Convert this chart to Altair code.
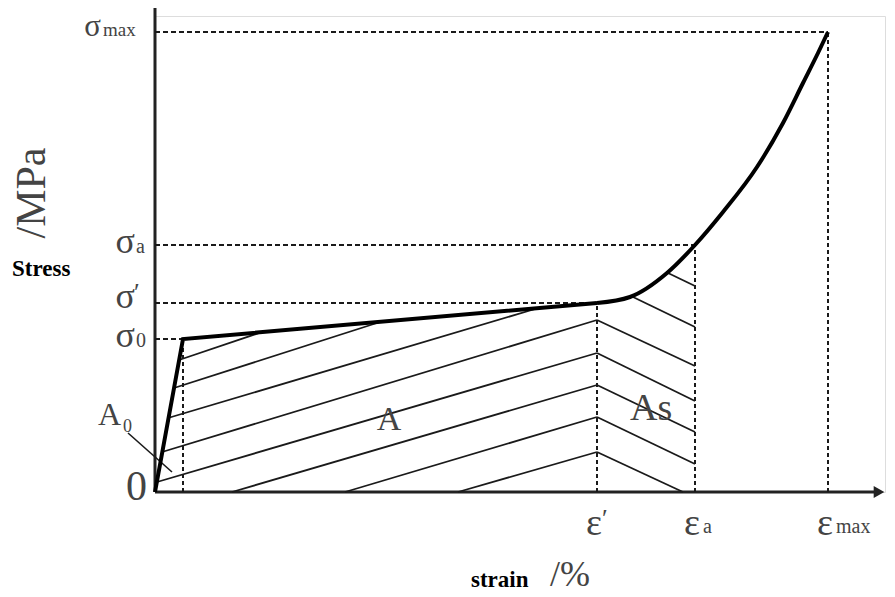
import altair as alt
import pandas as pd

# ---------------- data (schematic units) ----------------
# elastic + plateau segment (sharp knee)
lin_strain = [0, 28, 442]
lin_stress = [0, 153, 189]
# hardening curve from sigma' to sigma_max
curve_strain = [442, 475, 512, 540, 568, 602, 628, 648, 663, 673]
curve_stress = [189, 195, 219, 247, 280, 325, 369, 409, 439, 460]

# characteristic levels
level_names = ["0", "′", "a", "max"]
level_strain = [28, 442, 540, 673]
level_stress = [153, 189, 247, 460]

# hatch segments (area A and area As)
hatch_x1 = [303, 190, 77, 2, 7, 13, 19, 24, 442, 442, 442, 442, 442, 478, 513]
hatch_y1 = [0, 0, 0, 10, 40, 74, 104, 132, 40, 75, 107, 139, 172, 195, 219]
hatch_x2 = [442, 442, 442, 442, 442, 380, 225, 107, 528, 540, 540, 540, 540, 540, 540]
hatch_y2 = [40, 75, 107, 139, 172, 183, 170, 160, 0, 28, 60, 91, 126, 165, 206]

# A0 leader line
leader_x = [-27, 17]
leader_y = [59, 20]

# ---------------- tables ----------------
lin_df = pd.DataFrame({"strain": lin_strain, "stress": lin_stress})
curve_df = pd.DataFrame({"strain": curve_strain, "stress": curve_stress})
lev_df = pd.DataFrame({"name": level_names, "strain": level_strain, "stress": level_stress, "zero": 0})
hatch_df = pd.DataFrame({"x1": hatch_x1, "y1": hatch_y1, "x2": hatch_x2, "y2": hatch_y2})
leader_df = pd.DataFrame({"strain": leader_x, "stress": leader_y})
one = pd.DataFrame({"k": [0]})

W, H = 730, 476
xs = alt.Scale(domain=[0, W], nice=False, zero=False)
ys = alt.Scale(domain=[0, H], nice=False, zero=False)
X = lambda f: alt.X(f, scale=xs, axis=None)
Y = lambda f: alt.Y(f, scale=ys, axis=None)

SERIF = "Liberation Serif"
GRAY = "#444444"
INK = "#1a1a1a"

# axes drawn by hand
y_axis = alt.Chart(one).mark_rule(color="#222", strokeWidth=3).encode(
    x=alt.value(0), y=alt.value(-8), y2=alt.value(H))
x_axis = alt.Chart(one).mark_rule(color="#222", strokeWidth=3).encode(
    x=alt.value(0), x2=alt.value(W - 8), y=alt.value(H))
arrow = alt.Chart(one).mark_point(shape="triangle-right", filled=True, size=150,
                                  color="#222", opacity=1).encode(
    x=alt.value(W - 6), y=alt.value(H))

# dashed guide lines
h_dash = alt.Chart(lev_df).mark_rule(strokeDash=[5, 3], strokeWidth=2, color=INK).encode(
    x=X("zero:Q"), x2="strain:Q", y=Y("stress:Q"))
v_dash = alt.Chart(lev_df).mark_rule(strokeDash=[4, 3], strokeWidth=2, color=INK).encode(
    x=X("strain:Q"), y=Y("zero:Q"), y2="stress:Q")

# hatching
hatch = alt.Chart(hatch_df).mark_rule(strokeWidth=1.8, color=INK).encode(
    x=X("x1:Q"), y=Y("y1:Q"), x2="x2:Q", y2="y2:Q")
leader = alt.Chart(leader_df).mark_line(strokeWidth=1.6, color=INK, clip=False).encode(
    x=X("strain:Q"), y=Y("stress:Q"))

# main curve
lin_line = alt.Chart(lin_df).mark_line(strokeWidth=4, color="black", strokeJoin="miter").encode(
    x=X("strain:Q"), y=Y("stress:Q"))
curve_line = alt.Chart(curve_df).mark_line(strokeWidth=4, color="black", interpolate="monotone").encode(
    x=X("strain:Q"), y=Y("stress:Q"))

# ---------------- labels ----------------
def txt(size, color=GRAY, **kw):
    return dict(font=SERIF, fontSize=size, color=color, **kw)

lev = alt.Chart(lev_df)
sig_low = lev.transform_filter("datum.name == '0' || datum.name == 'a'")
sig_main_low = sig_low.mark_text(align="right", baseline="alphabetic", dy=8, **txt(36)).encode(
    x=alt.value(-20), y=Y("stress:Q"), text=alt.value("σ"))
sig_sub_low = sig_low.mark_text(align="left", baseline="alphabetic", dy=8, **txt(20)).encode(
    x=alt.value(-19), y=Y("stress:Q"), text="name:N")
sig_p = lev.transform_filter("datum.name == '′'")
sig_main_p = sig_p.mark_text(align="right", baseline="alphabetic", dy=5, **txt(36)).encode(
    x=alt.value(-20), y=Y("stress:Q"), text=alt.value("σ"))
sig_sub_p = sig_p.mark_text(align="left", baseline="alphabetic", dy=-2, **txt(26)).encode(
    x=alt.value(-21), y=Y("stress:Q"), text="name:N")
sig_m = lev.transform_filter("datum.name == 'max'")
sig_main_m = sig_m.mark_text(align="right", baseline="alphabetic", dy=4, **txt(31)).encode(
    x=alt.value(-54), y=Y("stress:Q"), text=alt.value("σ"))
sig_sub_m = sig_m.mark_text(align="left", baseline="alphabetic", dy=4, **txt(19)).encode(
    x=alt.value(-52), y=Y("stress:Q"), text="name:N")

eps = lev.transform_filter("datum.name != '0'")
eps_main = eps.mark_text(align="center", baseline="alphabetic", dx=-3, **txt(38)).encode(
    x=X("strain:Q"), y=alt.value(519), text=alt.value("ε"))
eps_sub = lev.transform_filter("datum.name == 'a' || datum.name == 'max'").mark_text(
    align="left", baseline="alphabetic", dx=8, **txt(20)).encode(
    x=X("strain:Q"), y=alt.value(517), text="name:N")
eps_p = lev.transform_filter("datum.name == '′'").mark_text(
    align="left", baseline="alphabetic", dx=5, **txt(26)).encode(
    x=X("strain:Q"), y=alt.value(511), text="name:N")


def label(text, x, y, size, color=GRAY, align="left", baseline="alphabetic", **kw):
    return alt.Chart(one).mark_text(align=align, baseline=baseline,
                                    **txt(size, color), **kw).encode(
        x=alt.value(x), y=alt.value(y), text=alt.value(text))


labels = [
    label("0", -8, 484, 42, align="right"),
    label("A", -57, 409, 32),
    label("0", -32, 416, 18),
    label("A", 234, 414, 34, align="center"),
    label("As", 475, 404, 38),
    label("/MPa", -123, 177, 42, align="center", baseline="middle", angle=270),
    label("Stress", -143, 260, 23, color="black", fontWeight="bold"),
    label("strain", 316, 571, 23, color="black", fontWeight="bold"),
    label("/%", 395, 570, 36),
]

chart = alt.layer(
    y_axis, x_axis, arrow, h_dash, v_dash, hatch, leader, lin_line, curve_line,
    sig_main_low, sig_sub_low, sig_main_p, sig_sub_p, sig_main_m, sig_sub_m,
    eps_main, eps_sub, eps_p, *labels
).properties(
    width=W, height=H,
    autosize=alt.AutoSizeParams(type="none"),
    padding={"left": 147, "right": 2, "top": 8, "bottom": 103},
).configure_view(stroke=None).configure(background="white")

chart.save("out.html", embed_options={"renderer": "svg", "actions": False})
